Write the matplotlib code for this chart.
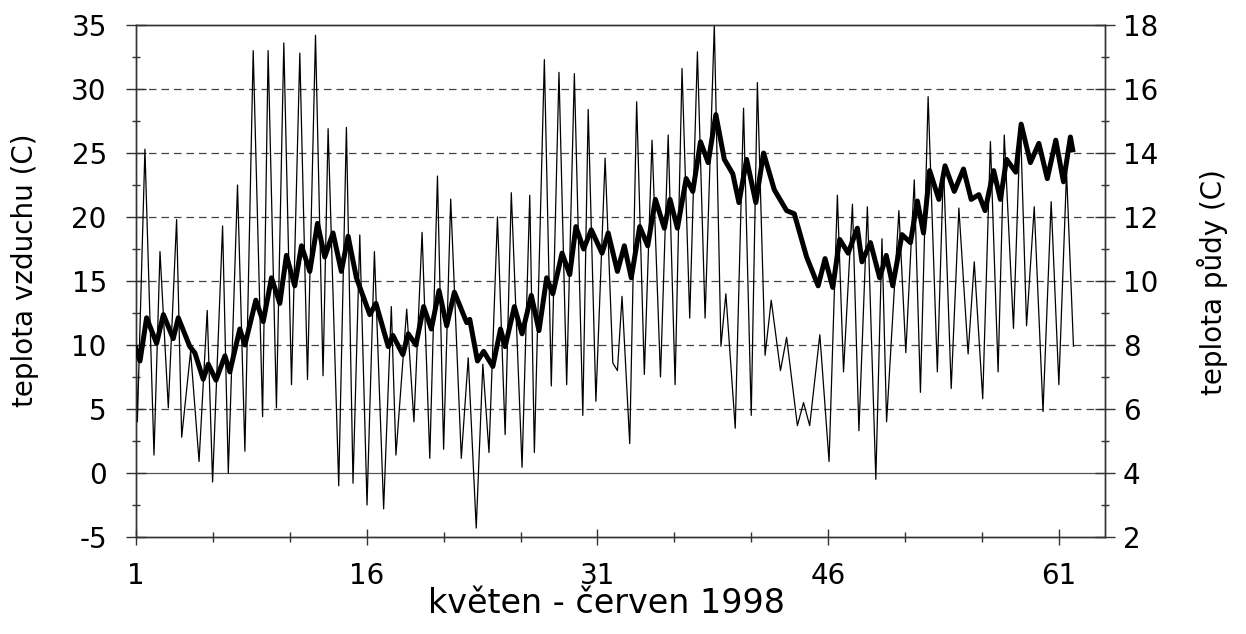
import matplotlib
matplotlib.use("Agg")
import matplotlib.pyplot as plt
from matplotlib.ticker import MultipleLocator, FixedLocator

plt.rcParams['font.family'] = ['DejaVu Sans']
plt.rcParams['axes.unicode_minus'] = False

# air temperature (thin line): time in days, value in C
air_day = [1.0, 1.09, 1.58, 2.17, 2.56, 3.1, 3.64, 3.97, 4.55, 5.1, 5.63, 5.98, 6.63, 7.0,
           7.6, 8.08, 8.62, 9.23, 9.59, 10.13, 10.61, 11.11, 11.65, 12.15, 12.67, 13.16,
           13.49, 14.18, 14.68, 15.11, 15.55, 16.02, 16.5, 17.1, 17.6, 17.9, 18.6, 19.07,
           19.6, 20.1, 20.6, 21.0, 21.46, 22.15, 22.6, 23.12, 23.55, 23.95, 24.5, 25.0,
           25.4, 26.1, 26.6, 26.9, 27.55, 28.0, 28.5, 29.0, 29.5, 30.05, 30.4, 30.9, 31.5,
           32.0, 32.3, 32.6, 33.1, 33.55, 34.05, 34.55, 35.1, 35.6, 36.05, 36.5, 37.0, 37.5,
           38.0, 38.6, 39.03, 39.35, 39.96, 40.5, 41.0, 41.4, 41.9, 42.3, 42.9, 43.3, 44.0,
           44.4, 44.8, 45.46, 46.06, 46.6, 47.0, 47.58, 48.0, 48.55, 49.1, 49.5, 49.8, 50.6,
           51.05, 51.6, 52.0, 52.5, 53.1, 53.5, 54.0, 54.5, 55.1, 55.5, 56.05, 56.55, 57.05,
           57.45, 58.05, 58.5, 58.9, 59.4, 59.97, 60.5, 61.0, 61.5, 61.95]
air_temp = [9.7, 4.0, 25.3, 1.4, 17.3, 5.1, 19.8, 2.8, 9.5, 0.9, 12.7, -0.7, 19.3, 0.0,
            22.5, 1.7, 33.0, 4.4, 33.0, 5.1, 33.6, 6.9, 32.8, 7.3, 34.2, 7.6,
            26.9, -1.0, 27.0, -0.8, 18.6, -2.5, 17.3, -2.8, 13.0, 1.4, 12.8, 4.0,
            18.8, 1.15, 23.2, 1.85, 21.4, 1.15, 9.0, -4.3, 8.5, 1.6, 20.0, 3.0,
            21.9, 0.45, 21.7, 1.6, 32.3, 6.8, 31.3, 6.9, 31.2, 4.5, 28.4, 5.6, 24.6,
            8.6, 8.0, 13.8, 2.3, 29.0, 7.7, 26.0, 7.5, 26.4, 6.9, 31.6, 12.1, 32.9,
            12.1, 35.0, 9.9, 14.0, 3.5, 28.5, 4.5, 30.5, 9.2, 13.5, 8.0, 10.6, 3.7,
            5.5, 3.7, 10.8, 0.9, 21.7, 7.9, 21.0, 3.3, 20.8, -0.5, 18.3, 4.0, 20.5,
            9.4, 22.9, 6.3, 29.4, 7.9, 24.0, 6.6, 20.7, 9.3, 16.5, 5.8, 25.9, 7.9,
            26.4, 11.3, 27.4, 11.5, 20.8, 4.8, 21.2, 6.9, 23.5, 9.9]

# soil temperature (thick line)
soil_day = [1.0, 1.26, 1.69, 2.34, 2.78, 3.42, 3.75, 4.5, 4.83, 5.37, 5.7, 6.2, 6.78, 7.1,
            7.75, 8.08, 8.79, 9.27, 9.81, 10.35, 10.78, 11.32, 11.76, 12.3, 12.8, 13.27,
            13.81, 14.35, 14.79, 15.33, 16.2, 16.6, 17.4, 17.7, 18.35, 18.7, 19.2, 19.7,
            20.2, 20.7, 21.2, 21.7, 22.5, 22.7, 23.2, 23.6, 24.2, 24.7, 25.0, 25.6, 26.1,
            26.7, 27.2, 27.7, 28.1, 28.7, 29.2, 29.6, 30.1, 30.6, 31.3, 31.7, 32.3, 32.75,
            33.2, 33.75, 34.27, 34.77, 35.35, 35.72, 36.2, 36.77, 37.2, 37.7, 38.2, 38.7,
            39.25, 39.8, 40.2, 40.7, 41.3, 41.8, 42.5, 43.3, 43.8, 44.6, 45.35, 45.8, 46.3,
            46.75, 47.3, 47.9, 48.2, 48.75, 49.35, 49.78, 50.2, 50.8, 51.35, 51.8, 52.2,
            52.6, 53.2, 53.6, 54.2, 54.8, 55.3, 55.8, 56.2, 56.76, 57.2, 57.6, 58.2, 58.55,
            59.15, 59.7, 60.25, 60.8, 61.3, 61.75, 61.9]
soil_temp = [7.9, 7.5, 8.85, 8.05, 8.95, 8.2, 8.85, 7.95, 7.75, 6.93, 7.4, 6.9, 7.66, 7.16,
             8.5, 8.0, 9.4, 8.73, 10.1, 9.3, 10.8, 9.85, 11.1, 10.3, 11.8, 10.75,
             11.5, 10.3, 11.4, 10.1, 8.95, 9.3, 7.95, 8.3, 7.7, 8.35, 8.0, 9.2,
             8.5, 9.7, 8.6, 9.65, 8.7, 8.8, 7.5, 7.8, 7.33, 8.5, 7.95, 9.2, 8.35,
             9.55, 8.45, 10.1, 9.6, 10.87, 10.2, 11.7, 11.0, 11.6, 10.87, 11.5, 10.3, 11.1,
             10.1, 11.7, 11.1, 12.55, 11.65, 12.55, 11.65, 13.2, 12.8, 14.35, 13.7, 15.2,
             13.8, 13.35, 12.45, 13.8, 12.45, 14.0, 12.85, 12.2, 12.1, 10.75, 9.85, 10.7, 9.8,
             11.3, 10.87, 11.65, 10.6, 11.2, 10.1, 10.8, 9.85, 11.45, 11.2, 12.5, 11.5,
             13.45, 12.55, 13.6, 12.8, 13.5, 12.55, 12.7, 12.2, 13.45, 12.55, 13.8, 13.4, 14.9,
             13.7, 14.3, 13.2, 14.4, 13.1, 14.5, 14.1]

x_major = [1, 16, 31, 46, 61]
x_minor = [6, 11, 21, 26, 36, 41, 51, 56]

fig = plt.figure(figsize=(12.46, 6.34), dpi=100)
ax = fig.add_axes([136 / 1246, 1 - 537 / 634, 969 / 1246, 512 / 634])

ax.plot(air_day, air_temp, color='black', lw=0.9, zorder=3)
ax.set_xlim(1, 64)
ax.set_ylim(-5, 35)
ax.yaxis.set_major_locator(MultipleLocator(5))
ax.yaxis.set_minor_locator(MultipleLocator(2.5))
ax.xaxis.set_major_locator(FixedLocator(x_major))
ax.xaxis.set_minor_locator(FixedLocator(x_minor))

for v in range(5, 35, 5):
    ax.axhline(v, color='#444444', lw=0.9, ls=(0, (6, 4)), zorder=1)
ax.axhline(0, color='#555555', lw=0.9, zorder=1)

ax.tick_params(axis='y', which='major', direction='inout', length=14, width=1,
               labelsize=20, pad=14, color='#333333')
ax.tick_params(axis='y', which='minor', direction='inout', length=6, width=1, color='#333333')
ax.tick_params(axis='x', which='major', direction='inout', length=12, width=1,
               labelsize=20, pad=12, color='#333333')
ax.tick_params(axis='x', which='minor', direction='inout', length=7, width=1, color='#333333')
ax.tick_params(top=False)

ax.set_xlabel('květen - červen 1998', fontsize=24)
ax.xaxis.set_label_coords(0.486, -0.098)
ax.set_ylabel('teplota vzduchu (C)', fontsize=20, va='center')
ax.yaxis.set_label_coords(-0.1146, 0.521)

for s in ax.spines.values():
    s.set_color('#333333')
    s.set_linewidth(1)

ax2 = ax.twinx()
ax2.plot(soil_day, soil_temp, color='black', lw=3.6, solid_joinstyle='round', zorder=4)
ax2.set_ylim(2, 18)
ax2.yaxis.set_major_locator(MultipleLocator(2))
ax2.yaxis.set_minor_locator(MultipleLocator(1))
ax2.tick_params(axis='y', which='major', direction='inout', length=14, width=1,
                labelsize=20, pad=6, color='#333333')
ax2.tick_params(axis='y', which='minor', direction='inout', length=6, width=1, color='#333333')
ax2.set_ylabel('teplota půdy (C)', fontsize=20, va='center', rotation=90)
ax2.yaxis.set_label_coords(1.111, 0.498)
for s in ax2.spines.values():
    s.set_color('#333333')
    s.set_linewidth(1)

fig.savefig('out.png', dpi=100)
